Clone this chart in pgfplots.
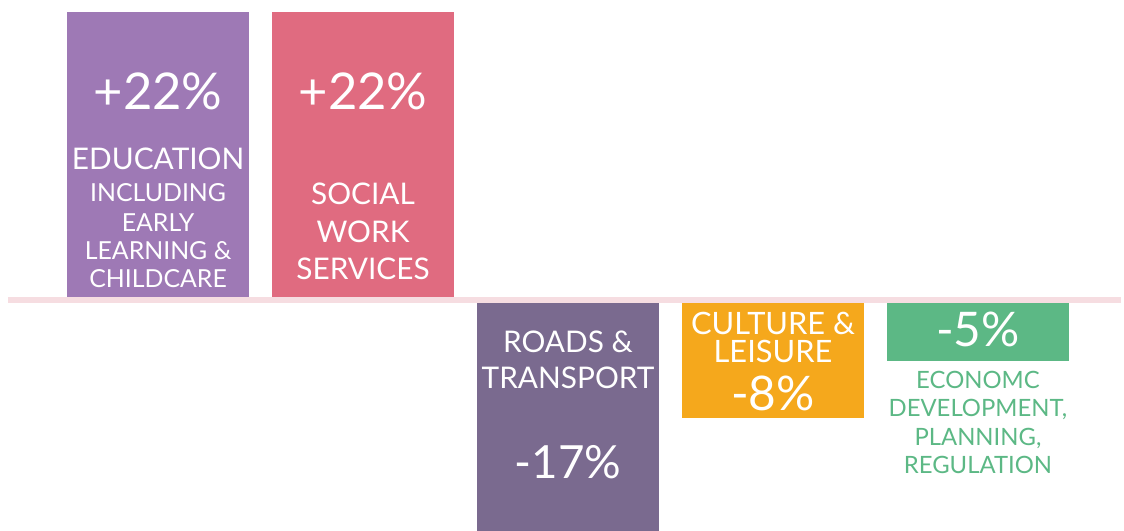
\documentclass[border=0pt]{standalone}
\usepackage{pgfplots}
\pgfplotsset{compat=1.18}
\usepackage{fontspec}
\setmainfont{Lato}
\definecolor{cEdu}{HTML}{9E79B5}
\definecolor{cSoc}{HTML}{E06B80}
\definecolor{cRoad}{HTML}{7A6A8F}
\definecolor{cCul}{HTML}{F5A81C}
\definecolor{cEco}{HTML}{5CB885}
\definecolor{cLine}{HTML}{F6DDE1}
\newcommand{\fs}[1]{\fontsize{#1}{#1}\selectfont}
\begin{document}
\begin{tikzpicture}
\begin{axis}[
  width=1124bp, height=532bp, scale only axis,
  xmin=-0.7713, xmax=4.698,
  ymin=-17.58, ymax=22.91,
  hide axis, clip=false,
  bar width=0.8905, bar shift=0,
]
\path (rel axis cs:0,0) rectangle (rel axis cs:1,1);
\addplot[ybar, fill=cEdu, draw=none] coordinates {(0,22)};
\addplot[ybar, fill=cSoc, draw=none] coordinates {(1,22)};
\addplot[ybar, fill=cRoad, draw=none] coordinates {(2,-17.58)};
\addplot[ybar, fill=cCul, draw=none] coordinates {(3,-9.0)};
\addplot[ybar, fill=cEco, draw=none] coordinates {(4,-4.65)};
\draw[cLine, line width=6bp] (axis cs:-0.7324,0) -- (axis cs:4.698,0);
\begin{scope}[every node/.style={anchor=base, text=white, inner sep=0pt}]
% bar 1
\node[font=\fs{51}] at (axis cs:0,14.54) {+22\%};
\node[font=\fs{30}] at (axis cs:0,9.97) {EDUCATION};
\node[font=\fs{25}] at (axis cs:0,7.53) {INCLUDING};
\node[font=\fs{25}] at (axis cs:0,5.25) {EARLY};
\node[font=\fs{25}] at (axis cs:0,3.12) {LEARNING \&};
\node[font=\fs{25}] at (axis cs:0,0.99) {CHILDCARE};
% bar 2
\node[font=\fs{51}] at (axis cs:1,14.54) {+22\%};
\node[font=\fs{30}] at (axis cs:1,7.31) {SOCIAL};
\node[font=\fs{30}] at (axis cs:1,4.41) {WORK};
\node[font=\fs{30}] at (axis cs:1,1.60) {SERVICES};
% bar 3
\node[font=\fs{30}] at (axis cs:2,-3.96) {ROADS \&};
\node[font=\fs{30}] at (axis cs:2,-6.77) {TRANSPORT};
\node[font=\fs{46}] at (axis cs:2,-13.62) {-17\%};
% bar 4
\node[font=\fs{31}] at (axis cs:3,-2.59) {CULTURE \&};
\node[font=\fs{31}] at (axis cs:3,-4.79) {LEISURE};
\node[font=\fs{48}] at (axis cs:3,-8.45) {-8\%};
% bar 5
\node[font=\fs{48}] at (axis cs:4,-3.50) {-5\%};
\end{scope}
\begin{scope}[every node/.style={anchor=base, text=cEco, inner sep=0pt, font=\fs{24}}]
\node at (axis cs:4,-6.77) {ECONOMC};
\node at (axis cs:4,-8.90) {DEVELOPMENT,};
\node at (axis cs:4,-11.11) {PLANNING,};
\node at (axis cs:4,-13.24) {REGULATION};
\end{scope}
\end{axis}
\end{tikzpicture}
\end{document}
